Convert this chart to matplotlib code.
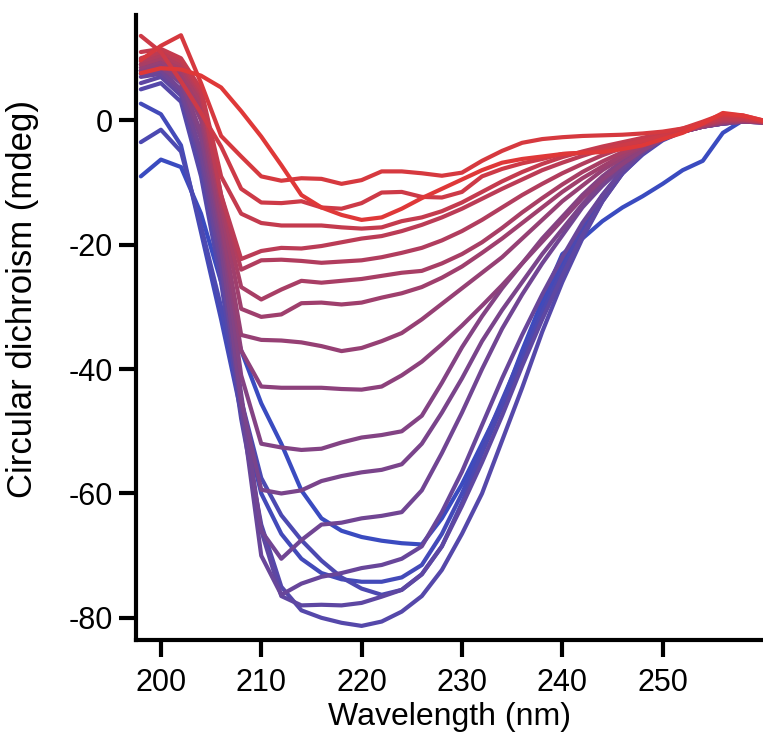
import numpy as np
import matplotlib
matplotlib.use("Agg")
import matplotlib.pyplot as plt
from matplotlib.colors import LinearSegmentedColormap

plt.rcParams['font.family'] = ['Liberation Sans', 'DejaVu Sans']
plt.rcParams['axes.unicode_minus'] = False

# wavelength grid (nm)
wl = [198, 200, 202, 204, 206, 208, 210, 212, 214, 216, 218, 220, 222, 224, 226, 228,
      230, 232, 234, 236, 238, 240, 242, 244, 246, 248, 250, 252, 254, 256, 258, 260]

# CD spectra (mdeg), ordered blue -> red
cd_00 = [-9.0, -6.3, -7.5, -15, -26, -37, -45.5, -52, -59.5, -64, -66, -67, -67.6, -68, -68.2, -64,
         -58.5, -52, -45.5, -37, -29, -21.5, -19, -16.2, -14, -12.2, -10.2, -8.0, -6.5, -2.0, 0, -0.3]
cd_01 = [2.7, 1, -4, -18, -32, -47, -60, -66.5, -70.5, -72.8, -73.8, -74.2, -74.2, -73.5, -71.5, -66.5,
         -60, -52.5, -45, -37.5, -30, -23, -17, -12, -8, -5, -3, -1.7, -1, -0.5, -0.2, -0.3]
cd_02 = [-3.5, -1.5, -5, -17, -30, -45, -57.5, -63.5, -67.5, -70.8, -73.5, -75.3, -76.3, -75.5, -73, -68.5,
         -61.5, -53.5, -46, -38.5, -31, -24, -17.5, -12.5, -8.5, -5.5, -3.2, -1.8, -1, -0.5, -0.2, -0.3]
cd_03 = [5, 6, 3, -9, -26, -48, -65, -75, -78.8, -80, -80.8, -81.3, -80.6, -79, -76.5, -72.3,
         -66.5, -60, -51.5, -43, -34, -26, -19, -13, -8.5, -5.3, -3, -1.6, -0.8, -0.3, 0, -0.2]
cd_04 = [6, 7, 4, -7, -24, -46, -66, -76.5, -78, -77.9, -78, -77.6, -76.6, -75.5, -73, -68.5,
         -62, -55, -47.5, -39.5, -32, -25, -18.5, -13, -8.5, -5.3, -3, -1.6, -0.8, -0.3, 0, -0.2]
cd_05 = [7, 7.5, 4.5, -6, -23, -46, -70, -76.3, -74.5, -73.4, -72.8, -72, -71.5, -70.5, -68.5, -63,
         -56.5, -49, -41.5, -34.5, -28, -22, -16.5, -12, -8, -5.2, -3, -1.8, -1, -0.5, -0.2, -0.3]
cd_06 = [7.5, 8, 5, -5, -21, -44, -66, -70.5, -67.5, -65, -64.7, -64, -63.6, -63, -59.5, -53.5,
         -47, -40, -33.5, -28, -23, -18.5, -14, -10.5, -7.5, -5, -3, -1.8, -1, -0.5, -0.2, -0.3]
cd_07 = [8, 8.5, 6, -3, -20, -45, -59.4, -60, -59.5, -58, -57.2, -56.6, -56.2, -55.3, -52, -47,
         -41.5, -35.5, -30.5, -26, -21.5, -17.5, -13.5, -10, -7, -4.8, -3, -1.8, -1, -0.5, -0.2, -0.3]
cd_08 = [8, 8.5, 6.5, -2, -18, -41, -52, -52.6, -53, -52.8, -51.8, -51, -50.6, -50, -47.5, -42.2,
         -36.5, -31.5, -27, -23, -19, -15.5, -12, -9, -6.5, -4.5, -3, -1.8, -1, -0.4, -0.2, -0.3]
cd_09 = [8, 9, 7, 0, -17, -37, -42.8, -43, -43, -43, -43.2, -43.3, -42.8, -41, -38.8, -36,
         -33, -29.8, -26.5, -23, -19.5, -16, -12.5, -9.5, -7, -4.8, -3, -1.8, -1, -0.4, -0.2, -0.3]
cd_10 = [8.5, 9.5, 7.5, 1, -16, -34.5, -35.3, -35.4, -35.7, -36.3, -37.1, -36.6, -35.5, -34.2, -32, -29.5,
         -27, -24.5, -22, -19, -16, -13, -10.5, -8, -6, -4.2, -2.8, -1.8, -1, -0.3, -0.1, -0.3]
cd_11 = [9, 10, 8, 2, -14, -30.3, -31.6, -31.2, -29.4, -29.3, -29.6, -29.3, -28.5, -27.8, -26.8, -25.3,
         -23.5, -21.3, -19, -16.5, -14, -11.5, -9.3, -7.4, -5.6, -4, -2.7, -1.7, -0.9, -0.2, 0, -0.3]
cd_12 = [9, 10, 8.5, 3, -13, -26.8, -28.8, -27.2, -25.8, -26.1, -25.8, -25.5, -25, -24.5, -24.2, -23,
         -21.5, -19.6, -17.3, -14.8, -12.5, -10.3, -8.3, -6.6, -5.1, -3.8, -2.6, -1.6, -0.8, -0.1, 0, -0.3]
cd_13 = [9.5, 10.5, 9, 4, -12, -24, -22.5, -22.4, -22.6, -22.9, -22.7, -22.5, -22, -21.3, -20.5, -19.3,
         -17.8, -16, -14, -12, -10.2, -8.5, -7, -5.6, -4.4, -3.3, -2.4, -1.5, -0.7, 0, 0.1, -0.2]
cd_14 = [10, 11, 9.5, 4.5, -12, -22.3, -21, -20.5, -20.6, -20.2, -19.6, -19, -18.6, -17.8, -16.8, -15.6,
         -14.2, -12.6, -11, -9.5, -8, -6.8, -5.7, -4.7, -3.8, -3, -2.2, -1.4, -0.6, 0.2, 0.2, -0.2]
cd_15 = [11, 11.5, 10, 5, -9, -15, -16.5, -16.9, -16.9, -16.9, -17.2, -17.4, -17.2, -16.2, -15.6, -14.6,
         -13.2, -11.5, -9.8, -8.3, -7, -5.9, -5, -4.2, -3.5, -2.8, -2.1, -1.3, -0.5, 0.4, 0.3, -0.2]
cd_16 = [13.6, 11, 6.3, 1.2, -4.2, -11, -13.2, -13.3, -13, -14, -14.2, -13.3, -11.6, -11.5, -12.3, -12.4,
         -11.5, -9, -7.8, -6.9, -6.2, -5.4, -5.2, -4.8, -4, -3.3, -2.5, -1.6, -0.4, 0.8, 0.6, -0.1]
cd_17 = [9.7, 12, 13.7, 6, -2.5, -5.8, -9, -9.7, -9.3, -9.4, -10.2, -9.6, -8.2, -8.2, -8.5, -8.9,
         -8.4, -6.5, -4.9, -3.6, -3, -2.7, -2.5, -2.4, -2.3, -2.1, -1.8, -1.3, -0.2, 1, 0.8, 0]
cd_18 = [7.6, 8.4, 8.2, 7.2, 5.3, 1.5, -2.6, -7.2, -12, -14, -15.2, -16, -15.6, -14.2, -12.5, -11,
         -9.5, -8, -6.8, -6.2, -5.8, -5.4, -5.2, -5.1, -4.6, -4, -3, -2, -0.5, 1.2, 0.8, 0]

spectra = [cd_00, cd_01, cd_02, cd_03, cd_04, cd_05, cd_06, cd_07, cd_08, cd_09,
           cd_10, cd_11, cd_12, cd_13, cd_14, cd_15, cd_16, cd_17, cd_18]

cmap = LinearSegmentedColormap.from_list("br", ["#3a4bc0", "#df3838"])
colors = cmap(np.linspace(0, 1, len(spectra)))

fig = plt.figure(figsize=(7.63, 7.36), dpi=100)
ax = fig.add_axes([0.178, 0.131, 0.822, 0.849])

for y, c in zip(spectra, colors):
    ax.plot(wl, y, color=c, lw=3.0, solid_joinstyle='round', solid_capstyle='round')

ax.set_xlim(197.5, 260)
ax.set_ylim(-83.5, 17)
ax.set_xticks([200, 210, 220, 230, 240, 250])
ax.set_yticks([0, -20, -40, -60, -80])

for s in ['top', 'right']:
    ax.spines[s].set_visible(False)
for s in ['left', 'bottom']:
    ax.spines[s].set_linewidth(3)

ax.tick_params(width=3, length=12.5, labelsize=22, direction='out')
ax.tick_params(axis='x', pad=8)
ax.tick_params(axis='y', pad=4)
ax.set_xlabel("Wavelength (nm)", fontsize=23, labelpad=3)
ax.set_ylabel("Circular dichroism (mdeg)", fontsize=25, labelpad=16)
ax.yaxis.set_label_coords(-0.155, 0.545)

fig.savefig("out.png", dpi=100)
